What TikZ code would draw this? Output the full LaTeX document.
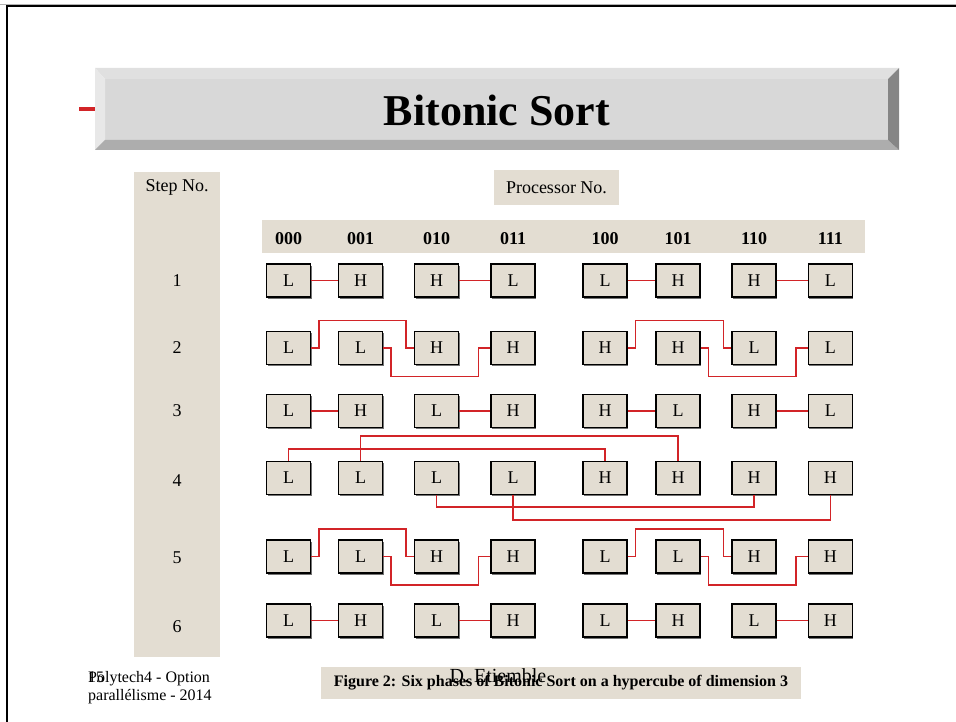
\documentclass[tikz,border=0pt]{standalone}
\usepackage{fontspec}
\setmainfont{Liberation Serif}
\usetikzlibrary{calc}
\definecolor{granite}{RGB}{227,221,210}
\definecolor{wirered}{RGB}{210,36,40}
\definecolor{bevelface}{RGB}{216,216,216}
\tikzset{
  procbox/.style={draw, line width=1.2pt, fill=granite, minimum width=44pt, minimum height=33pt, inner sep=0pt,
    font=\fontsize{18}{20}\selectfont, preaction={fill=black!55, transform canvas={shift={(1pt,-1.8pt)}}}},
  wire/.style={wirered, line width=1.6pt},
  steplabel/.style={font=\fontsize{18}{20}\selectfont, inner sep=0pt},
  hdrlabel/.style={font=\fontsize{18}{20}\selectfont\bfseries, inner sep=0pt, anchor=base},
  footlabel/.style={font=\fontsize{16}{18}\selectfont, inner sep=0pt, anchor=base west}
}

\begin{document}
\begin{tikzpicture}[x=1pt, y=-1pt]
  \useasboundingbox (0,0) rectangle (956,722);
  % slide frame
  \draw[gray!60, line width=0.8pt] (0,4) -- (956,4);
  \draw[line width=2pt] (7,722) -- (7,6) -- (956,6);
  % title bar
  \draw[wirered, line width=4pt] (79,109) -- (95,109);
  \fill[bevelface] (105,79) rectangle (888,140);
  \fill[black!12] (95,68) -- (899,68) -- (888,79) -- (105,79) -- cycle;
  \fill[black!9] (95,68) -- (105,79) -- (105,140) -- (95,150) -- cycle;
  \fill[black!32] (95,150) -- (105,140) -- (888,140) -- (899,150) -- cycle;
  \fill[black!48] (899,68) -- (888,79) -- (888,140) -- (899,150) -- cycle;
  \node[font=\fontsize{44}{48}\selectfont\bfseries] (title) at (497,110) {Bitonic Sort};
  % bands
  \fill[granite] (134,172) rectangle (220,657);
  \fill[granite] (262,220) rectangle (865,253);
  \node[steplabel] (stepno) at (177,187) {Step No.};
  \node[steplabel, fill=granite, minimum width=125pt, minimum height=35pt] (procno) at (556.5,187.5) {Processor No.};
  \foreach \lab [count=\c from 0] in {000,001,010,011,100,101,110,111} {
    \pgfmathsetmacro\xx{{288.5,360.6,436.5,513,605,678,754,830.3}[\c]}
    \node[hdrlabel] (h\c) at (\xx,244) {\lab};
  }
  \foreach \s/\y in {1/280.5,2/348,3/411,4/481,5/558,6/627}
    \node[steplabel] (s\s) at (177,\y) {\s};
  % processor boxes
  \foreach \r/\y/\labs in {1/280.5/{L,H,H,L,L,H,H,L}, 2/348/{L,L,H,H,H,H,L,L}, 3/411/{L,H,L,H,H,L,H,L},
      4/478/{L,L,L,L,H,H,H,H}, 5/556.5/{L,L,H,H,L,L,H,H}, 6/620.5/{L,H,L,H,L,H,L,H}} {
    \foreach \lab [count=\c from 0] in \labs {
      \pgfmathsetmacro\xx{{288.5,360.6,436.5,513,605,678,754,830.3}[\c]}
      \node[procbox] (r\r-\c) at (\xx,\y) {\lab};
    }
  }
  % compare-exchange links
  \foreach \r in {1,3,6}
    \foreach \a/\b in {0/1,2/3,4/5,6/7}
      \draw[wire] (r\r-\a) -- (r\r-\b);
  \foreach \r in {2,5} {
    \foreach \a/\b in {0/2,4/6}
      \draw[wire] (r\r-\a.east) -- ++(8,0) -- ++(0,-27.5) -| ($(r\r-\b.west)+(-8,0)$) -- (r\r-\b.west);
    \foreach \a/\b in {1/3,5/7}
      \draw[wire] (r\r-\a.east) -- ++(8,0) -- ++(0,28.5) -| ($(r\r-\b.west)+(-12,0)$) -- (r\r-\b.west);
  }
  \draw[wire] (r4-0.north) -- ++(0,-12) -| (r4-4.north);
  \draw[wire] (r4-1.north) -- ++(0,-25) -| (r4-5.north);
  \draw[wire] (r4-2.south) -- ++(0,12) -| (r4-6.south);
  \draw[wire] (r4-3.south) -- ++(0,25) -| (r4-7.south);
  % footer
  \node[footlabel] (foot1) at (88,682) {Polytech4 - Option};
  \node[footlabel] (foot2) at (88,700) {parallélisme - 2014};
  \node[footlabel] (slideno) at (88,682) {15};
  \node[fill=granite, minimum width=480pt, minimum height=32pt, inner sep=0pt,
    font=\fontsize{16}{18}\selectfont\bfseries] (caption) at (561,683)
    {Figure 2: Six phases of Bitonic Sort on a hypercube of dimension 3};
  \node[font=\fontsize{20}{22}\selectfont, inner sep=0pt] (author) at (498,676) {D. Etiemble};
\end{tikzpicture}
\end{document}
